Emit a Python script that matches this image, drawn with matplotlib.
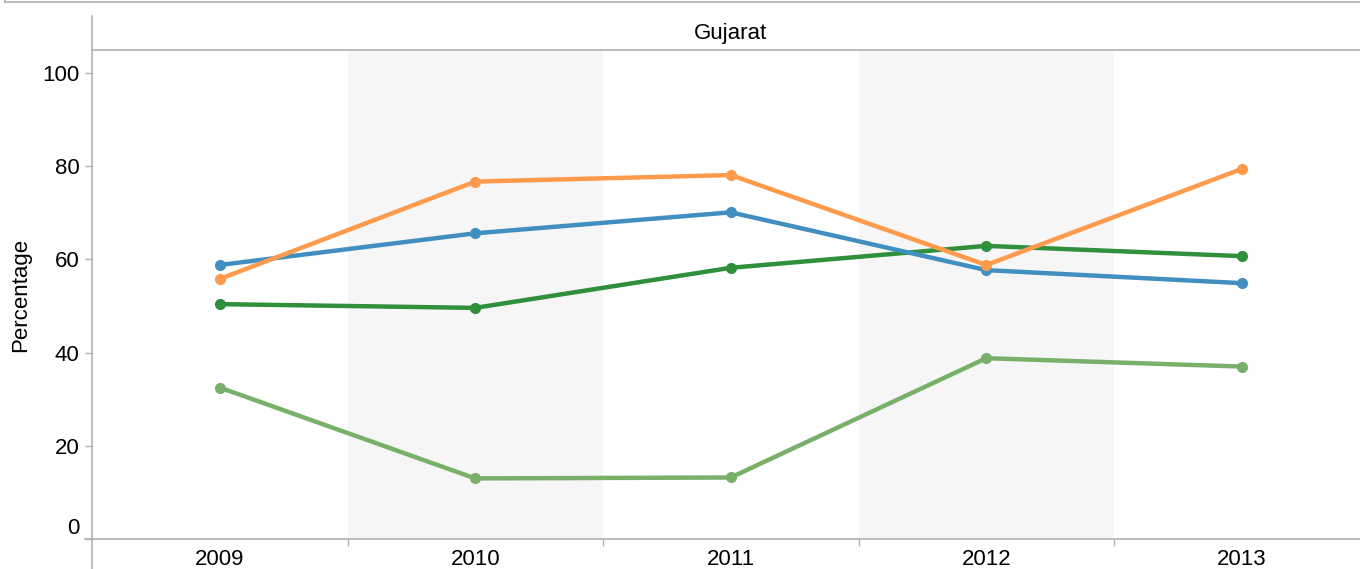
import matplotlib
matplotlib.use("Agg")
import matplotlib.pyplot as plt
from matplotlib.lines import Line2D
import numpy as np

plt.rcParams['font.family'] = ['Liberation Sans', 'DejaVu Sans']

# data
years = ["2009", "2010", "2011", "2012", "2013"]
series_orange = [55.8, 76.7, 78.1, 58.8, 79.4]
series_blue = [58.8, 65.6, 70.1, 57.7, 54.9]
series_green = [50.4, 49.6, 58.2, 62.9, 60.7]
series_lightgreen = [32.5, 13.0, 13.2, 38.8, 37.0]
y_ticks = [0, 20, 40, 60, 80, 100]
facet_title = "Gujarat"
y_title = "Percentage"

colors = {
    "orange": "#fd9a4b",
    "blue": "#418fc0",
    "green": "#2f8f3b",
    "lightgreen": "#78b06a",
}

W, H = 1360, 569
GREY = "#b2b2b2"
FS = 16


def fx(x):
    return x / W


def fy(y):
    return 1 - y / H


fig = plt.figure(figsize=(W / 100, H / 100), dpi=100)

# plot area in pixels: x 92..1369.5 (runs past the right edge), y 50..539
left, right, top, bottom = 92, 1369.5, 50, 539
ax = fig.add_axes([fx(left), fy(bottom), (right - left) / W, (bottom - top) / H])

x = np.arange(len(years))
ax.set_xlim(-0.5, len(years) - 0.5)
ax.set_ylim(0, (bottom - top) / 4.66)

# alternating band shading
for i in range(len(years)):
    if i % 2 == 1:
        ax.axvspan(i - 0.5, i + 0.5, color="#f6f6f6", lw=0, zorder=0)

for key, vals in [("lightgreen", series_lightgreen), ("green", series_green),
                  ("blue", series_blue), ("orange", series_orange)]:
    ax.plot(x, vals, color=colors[key], lw=3.2, marker="o", ms=7,
            solid_capstyle="round", zorder=3)

for s in ax.spines.values():
    s.set_visible(False)

# y axis
ax.set_yticks(y_ticks)
ax.set_yticklabels([str(v) for v in y_ticks])
ax.tick_params(axis="y", length=5, width=1, color=GREY, pad=4, labelsize=FS)
ylabels = ax.get_yticklabels()
ylabels[0].set_va("bottom")

# x axis: ticks on band edges, labels on centers
ax.set_xticks(np.arange(0.5, len(years) - 0.5), labels=[""] * (len(years) - 1))
ax.set_xticks(x, labels=years, minor=True)
ax.tick_params(axis="x", which="major", length=5, width=1, color=GREY)
ax.tick_params(axis="x", which="minor", length=0, pad=7, labelsize=FS)

ax.set_ylabel(y_title, fontsize=FS)
ax.yaxis.set_label_coords((31 - left) / (right - left), 0.5)

# frame lines in figure pixels
def fig_line(x0, y0, x1, y1):
    fig.add_artist(Line2D([fx(x0), fx(x1)], [fy(y0), fy(y1)], color=GREY, lw=1.2,
                          transform=fig.transFigure, clip_on=False))

fig_line(5, 2, W, 2)
fig_line(5, 0, 5, 2)
fig_line(92, 16, 92, H)
fig_line(92, 50, W, 50)
fig_line(85, 539, W, 539)

fig.text(fx((left + right) / 2), fy(33), facet_title, ha="center", va="center",
         fontsize=FS)

fig.savefig("out.png", dpi=100)
